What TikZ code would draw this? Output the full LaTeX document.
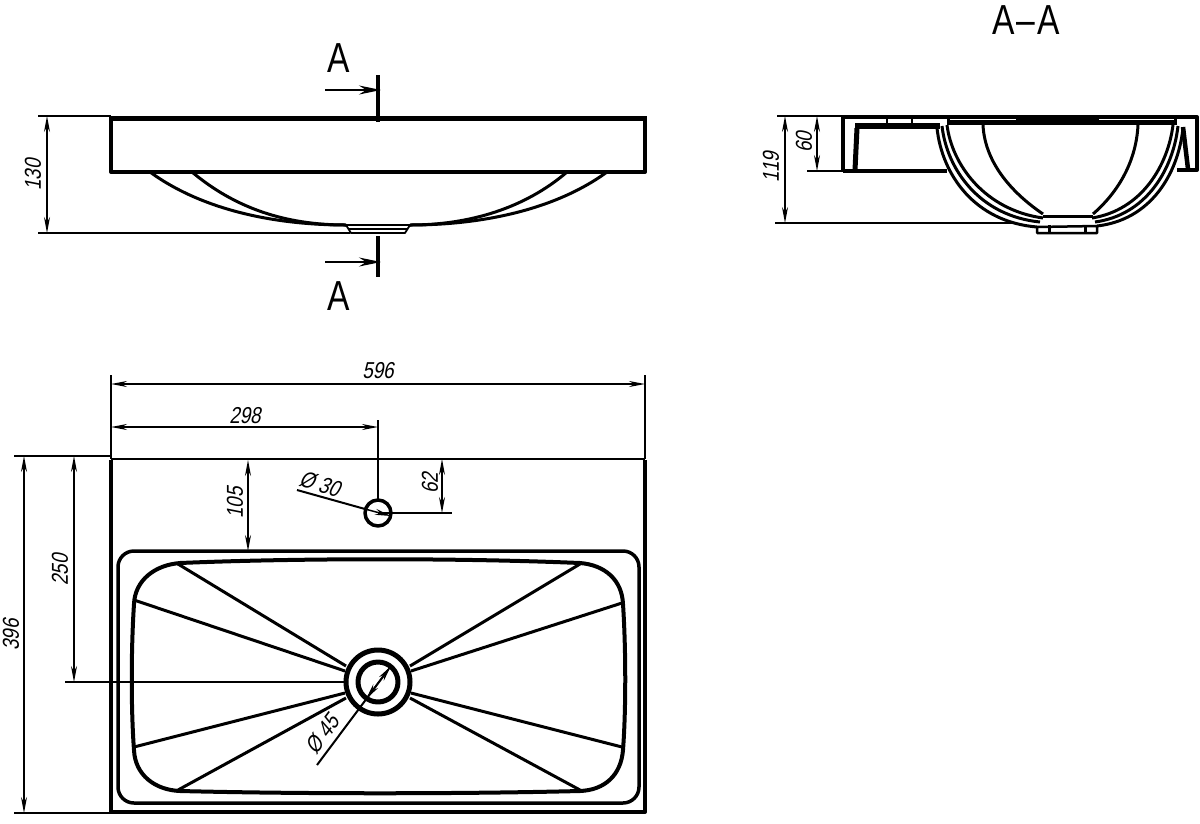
\documentclass[tikz,border=0pt]{standalone}
\usepackage{fontspec}
\newfontfamily\dimfont[FakeStretch=.82,FakeSlant=.2]{Liberation Sans}
\newfontfamily\sectfont[FakeStretch=.8]{Liberation Sans}
\usetikzlibrary{arrows.meta}
\tikzset{
  dimline/.style={line width=1.5pt,{Stealth[length=16pt,width=6pt]}-{Stealth[length=16pt,width=6pt]}},
  extline/.style={line width=1.5pt},
  leadline/.style={line width=2pt},
  outline/.style={line width=4pt},
  bowlline/.style={line width=3pt},
  cutline/.style={line width=3.2pt},
  cutarrow/.style={line width=1.5pt,-{Stealth[length=22pt,width=9pt]}},
  dimtext/.style={font=\dimfont\fontsize{23}{26}\selectfont,inner sep=0pt},
  secttext/.style={font=\sectfont\fontsize{42}{46}\selectfont,inner sep=0pt}
}
\begin{document}
\begin{tikzpicture}[x=1pt,y=-1pt,line join=round]
\useasboundingbox (0,0) rectangle (1200,823);

% front view
\draw[outline] (111,172) rectangle (645,118);
\draw[line width=5pt] (109,118) -- (647,118);
\draw[bowlline] (150,172) .. controls (205,212) and (280,225) .. (346,225);
\draw[bowlline] (192,172) .. controls (235,208) and (285,225) .. (346,225);
\draw[bowlline] (607,172) .. controls (552,212) and (476,225) .. (410,225);
\draw[bowlline] (567,172) .. controls (525,208) and (470,225) .. (410,225);
\draw[line width=1.8pt] (346,225) -- (351,233) -- (405,233) -- (410,225) -- cycle;
\draw[line width=1.5pt] (349,229) -- (407,229);

\draw[cutline] (378,75) -- (378,122);
\draw[cutline] (378,236) -- (378,277);
\draw[cutarrow] (325,90) -- (381,90);
\draw[cutarrow] (325,262) -- (381,262);
\node[secttext] (cutA1) at (339,58) {A};
\node[secttext] (cutA2) at (339,296) {A};

\draw[extline] (38,116) -- (111,116);
\draw[extline] (38,233) -- (350,233);
\draw[dimline] (47,116) -- (47,233);
\node[dimtext,rotate=90] (d130) at (33,175) {130};

% section view
\node[secttext] (title) at (1026,20) {A\kern2pt–\kern2pt A};
\draw[outline] (843,172) -- (843,117) -- (1197,117) -- (1197,170) -- (1177,170);
\draw[outline] (843,171) -- (947,171);
\draw[line width=8pt] (947,121) -- (1177,121);
\draw[white,line width=1pt] (950,119) -- (1016,119);
\draw[white,line width=1pt] (1099,119) -- (1174,119);
\draw[line width=5pt] (855,170) -- (857,128);
\draw[line width=6pt] (855,126) -- (940,126);
\draw[line width=4.5pt] (1188,169) -- (1183,127);
\draw[line width=2.5pt] (887,123) -- (887,117);
\draw[line width=2.5pt] (912,117) -- (912,123);

\draw[bowlline] (937,128) .. controls (942,175) and (975,222) .. (1037,227);
\draw[bowlline] (942,126) .. controls (947,170) and (980,216) .. (1040,222);
\draw[bowlline] (947,125) .. controls (952,165) and (985,210) .. (1043,218);
\draw[bowlline] (1183,128) .. controls (1178,175) and (1150,220) .. (1097,226);
\draw[bowlline] (1178,126) .. controls (1173,170) and (1146,215) .. (1095,222);
\draw[bowlline] (1173,125) .. controls (1168,165) and (1142,210) .. (1092,218);
\draw[bowlline] (983,125) .. controls (985,165) and (1015,195) .. (1043,214);
\draw[bowlline] (1138,125) .. controls (1136,165) and (1115,195) .. (1093,214);
\draw[bowlline] (1043,216) -- (1093,216);
\draw[line width=2.5pt] (1037,227) -- (1037,233) -- (1097,233) -- (1097,226) -- cycle;
\draw[line width=3pt] (1049,225) -- (1049,233);
\draw[line width=3pt] (1085,225) -- (1085,233);

\draw[extline] (777,116) -- (843,116);
\draw[extline] (775,223) -- (1017,223);
\draw[extline] (807,171) -- (843,171);
\draw[dimline] (785,116) -- (785,223);
\draw[dimline] (817,116) -- (817,171);
\node[dimtext,rotate=90] (d119) at (771,167) {119};
\node[dimtext,rotate=90] (d60) at (804,142) {60};

% top view
\draw[outline] (111,460) -- (111,812) -- (645,812) -- (645,460);
\draw[line width=2.2pt] (111,459) -- (645,459);
\draw[line width=3.5pt,rounded corners=16pt] (118,803) rectangle (639,551);
\draw[line width=4pt] (180,563) .. controls (300,558) and (460,558) .. (580,563)
  .. controls (605,565) and (622,580) .. (623,604)
  .. controls (626,650) and (626,710) .. (623,750)
  .. controls (621,775) and (605,790) .. (580,791)
  .. controls (460,794) and (300,794) .. (180,791)
  .. controls (155,790) and (135,775) .. (134,750)
  .. controls (131,710) and (131,650) .. (134,604)
  .. controls (135,580) and (155,565) .. (180,563) -- cycle;

\draw[bowlline] (178,564) -- (346,666);
\draw[bowlline] (134,600) -- (345,671);
\draw[bowlline] (134,747) -- (345,693);
\draw[bowlline] (178,790) -- (346,698);
\draw[bowlline] (580,564) -- (410,666);
\draw[bowlline] (622,603) -- (411,671);
\draw[bowlline] (622,747) -- (411,693);
\draw[bowlline] (580,790) -- (410,698);

\draw[line width=5pt] (378,682) circle (32pt);
\draw[line width=5pt] (378,682) circle (20pt);
\draw[line width=3.5pt] (378,513) circle (13pt);

\draw[extline] (111,375) -- (111,459);
\draw[extline] (645,375) -- (645,459);
\draw[extline] (378,420) -- (378,500);
\draw[dimline] (111,384) -- (645,384);
\draw[dimline] (111,427) -- (378,427);
\node[dimtext] (d596) at (378,371) {596};
\node[dimtext] (d298) at (245,416) {298};

\draw[extline] (14,456) -- (111,456);
\draw[extline] (14,813) -- (111,813);
\draw[extline] (65,682) -- (345,682);
\draw[dimline] (24,456) -- (24,813);
\draw[dimline] (74,456) -- (74,682);
\draw[dimline] (248,460) -- (248,551);
\draw[dimline] (442,459) -- (442,513);
\draw[extline] (378,513) -- (452,513);
\node[dimtext,rotate=90] (d396) at (11,635) {396};
\node[dimtext,rotate=90] (d250) at (60,570) {250};
\node[dimtext,rotate=90] (d105) at (235,503) {105};
\node[dimtext,rotate=90] (d62) at (430,483) {62};

\draw[leadline] (297,490) -- (365,509);
\draw[line width=1.5pt,-{Stealth[length=16pt,width=6pt]}] (365,509) -- (391,516);
\node[dimtext,rotate=-17] (d30) at (320,484) {Ø 30};

\draw[leadline,-{Stealth[length=16pt,width=6pt]}] (317,765) -- (391,666);
\draw[line width=1.5pt,-{Stealth[length=16pt,width=6pt]}] (391,666) -- (366,699);
\node[dimtext,rotate=53] (d45) at (322,734) {Ø 45};
\end{tikzpicture}
\end{document}
